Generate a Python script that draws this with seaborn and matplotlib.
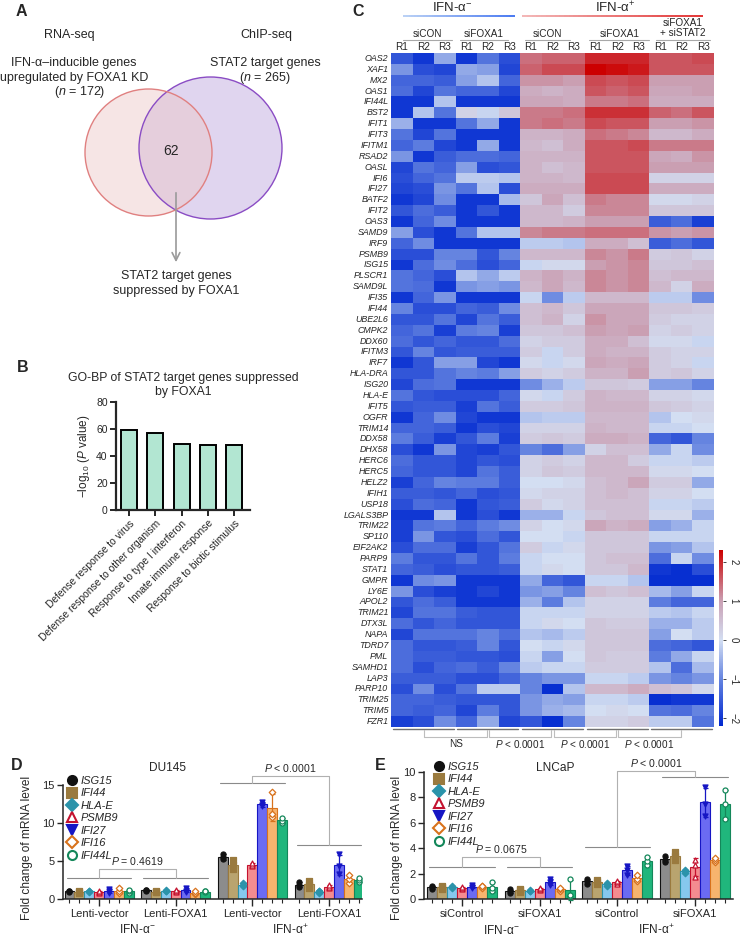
import numpy as np
import pandas as pd
import matplotlib
matplotlib.use("Agg")
import matplotlib.pyplot as plt
import seaborn as sns
from matplotlib.patches import Ellipse
from matplotlib.colors import LinearSegmentedColormap
from matplotlib.collections import LineCollection
from matplotlib.lines import Line2D

# ---------------- data ----------------
# A: venn counts
rna_n, chip_n, overlap_n = 172, 265, 62

# B: GO-BP enrichment
go_terms = ["Defense response to virus", "Defense response to other organism",
            "Response to type I interferon", "Innate immune response",
            "Response to biotic stimulus"]
go_logp = [59.6, 56.9, 49.0, 48.5, 47.8]

# C: heatmap (z-scores, 62 genes x 3 replicates per group)
genes = ["OAS2", "XAF1", "MX2", "OAS1", "IFI44L", "BST2", "IFIT1", "IFIT3", "IFITM1", "RSAD2",
         "OASL", "IFI6", "IFI27", "BATF2", "IFIT2", "OAS3", "SAMD9", "IRF9", "PSMB9", "ISG15",
         "PLSCR1", "SAMD9L", "IFI35", "IFI44", "UBE2L6", "CMPK2", "DDX60", "IFITM3", "IRF7", "HLA-DRA",
         "ISG20", "HLA-E", "IFIT5", "OGFR", "TRIM14", "DDX58", "DHX58", "HERC6", "HERC5", "HELZ2",
         "IFIH1", "USP18", "LGALS3BP", "TRIM22", "SP110", "EIF2AK2", "PARP9", "STAT1", "GMPR", "LY6E",
         "APOL2", "TRIM21", "DTX3L", "NAPA", "TDRD7", "PML", "SAMHD1", "LAP3", "PARP10", "TRIM25",
         "TRIM5", "FZR1"]
heat_groups = ["siCON", "siFOXA1", "siCON", "siFOXA1", "siFOXA1\n+ siSTAT2"]
reps = ["R1", "R2", "R3"]
heat_tests = ["NS", "$\\it{P}$ < 0.0001", "$\\it{P}$ < 0.0001", "$\\it{P}$ < 0.0001"]

sicon_neg = [
    (-1.6, -2.0, -0.6), (-0.8, -1.7, -1.8), (-1.4, -1.4, -1.5), (-1.3, -1.8, -1.2), (-2.0, -2.0, -0.3),
    (-2.0, -0.3, -1.2), (-0.5, -2.0, -2.0), (-1.2, -1.8, -1.2), (-1.4, -1.1, -1.8), (-0.8, -2.0, -1.5),
    (-1.8, -1.2, -1.4), (-1.7, -1.4, -1.2), (-1.8, -1.7, -0.8), (-2.0, -1.8, -0.9), (-1.6, -1.3, -1.5),
    (-2.0, -1.4, -0.9), (-0.7, -1.7, -2.0), (-1.4, -0.9, -2.0), (-1.7, -1.7, -1.0), (-2.0, -1.3, -0.9),
    (-1.2, -1.4, -1.7), (-1.2, -1.3, -2.0), (-2.0, -1.4, -0.8), (-1.0, -1.7, -1.7), (-1.6, -1.6, -1.2),
    (-1.4, -1.2, -1.9), (-1.3, -1.6, -1.4), (-1.6, -1.0, -1.6), (-2.0, -1.6, -0.7), (-1.6, -1.6, -1.2),
    (-1.8, -1.3, -1.2), (-1.2, -1.6, -1.7), (-1.6, -1.5, -1.5), (-2.0, -1.4, -0.9), (-1.4, -1.4, -1.5),
    (-1.1, -1.5, -1.9), (-1.7, -2.0, -0.8), (-1.3, -1.6, -1.6), (-1.4, -1.6, -1.6), (-1.9, -1.4, -1.0),
    (-1.5, -1.5, -1.6), (-1.7, -1.3, -1.4), (-2.0, -2.0, -0.3), (-1.9, -1.2, -1.1), (-1.9, -0.8, -1.6),
    (-1.7, -1.3, -1.3), (-1.1, -1.6, -1.6), (-1.4, -1.5, -1.7), (-2.0, -0.9, -0.8), (-0.8, -1.7, -1.9),
    (-1.6, -1.3, -1.5), (-1.8, -1.2, -1.2), (-1.3, -1.6, -1.4), (-1.8, -1.2, -1.2), (-1.3, -1.6, -1.6),
    (-1.3, -1.5, -1.5), (-1.3, -1.7, -1.4), (-1.5, -1.5, -1.5), (-1.7, -0.9, -1.7), (-1.4, -1.4, -1.5),
    (-1.4, -1.5, -1.4), (-1.9, -1.7, -0.9)]
sifoxa1_neg = [
    (-2.0, -1.2, -1.7), (-0.6, -0.7, -1.8), (-0.7, -0.3, -1.4), (-1.4, -1.4, -1.8), (-2.0, -2.0, -2.0),
    (0.2, -0.1, 0.4), (-1.2, -0.6, -2.0), (-2.0, -2.0, -2.0), (-2.0, -0.6, -2.0), (-1.3, -1.3, -1.4),
    (-0.7, -1.7, -1.6), (-0.2, -0.2, -0.3), (-1.2, -0.3, -1.7), (-2.0, -2.0, -0.4), (-2.0, -1.6, -2.0),
    (-2.0, -2.0, -2.0), (-1.2, -0.3, -0.3), (-2.0, -2.0, -2.0), (-1.0, -1.6, -1.0), (-1.3, -1.7, -1.4),
    (-0.3, -0.6, -0.2), (-0.8, -0.7, -0.8), (-2.0, -2.0, -2.0), (-1.4, -1.5, -0.9), (-1.8, -1.2, -1.5),
    (-1.1, -1.0, -1.9), (-1.6, -1.6, -1.3), (-1.5, -1.5, -1.5), (-0.7, -1.8, -2.0), (-1.0, -1.1, -0.7),
    (-2.0, -2.0, -2.0), (-1.7, -1.7, -1.4), (-1.9, -1.2, -1.5), (-1.8, -2.0, -2.0), (-2.0, -1.7, -1.8),
    (-1.6, -1.1, -1.9), (-1.8, -1.9, -1.6), (-1.8, -1.6, -1.7), (-1.8, -1.2, -1.5), (-1.1, -1.1, -1.5),
    (-1.4, -1.7, -1.6), (-2.0, -1.6, -1.5), (-2.0, -1.7, -2.0), (-1.4, -1.1, -0.9), (-1.7, -1.3, -1.6),
    (-1.9, -1.6, -1.2), (-1.2, -1.6, -1.1), (-1.6, -1.6, -1.5), (-2.0, -2.0, -2.0), (-2.0, -1.8, -2.0),
    (-2.0, -2.0, -2.0), (-1.5, -1.6, -1.6), (-1.6, -1.6, -1.6), (-1.2, -1.0, -1.3), (-1.5, -1.0, -1.6),
    (-1.6, -1.6, -1.7), (-1.3, -1.5, -1.0), (-1.7, -1.7, -1.4), (-1.2, -0.2, -0.2), (-1.6, -1.6, -1.6),
    (-1.8, -1.1, -1.6), (-1.4, -0.6, -1.8)]
sicon_pos = [
    (1.4, 1.5, 1.5), (1.5, 1.7, 1.7), (1.1, 1.1, 1.0), (0.8, 0.7, 0.8), (0.9, 0.9, 0.8),
    (1.3, 1.3, 1.4), (1.3, 1.4, 1.3), (0.7, 0.7, 0.8), (0.6, 0.5, 0.8), (0.7, 0.7, 0.7),
    (0.7, 0.5, 0.6), (0.7, 0.7, 0.6), (0.8, 0.8, 0.8), (0.4, 0.9, 0.5), (0.6, 0.6, 0.3),
    (0.6, 0.6, 0.7), (1.2, 1.3, 1.3), (-0.2, -0.2, -0.3), (0.6, 0.6, 0.6), (-0.1, 0.1, 0.1),
    (0.7, 0.9, 0.7), (0.6, 0.9, 0.6), (-0.1, -0.9, -0.2), (0.5, 0.6, 0.4), (0.5, 0.7, 0.2),
    (0.4, 0.4, 0.5), (0.2, 0.3, 0.3), (0.3, -0.1, 0.3), (0.1, -0.1, 0.1), (0.3, 0.2, 0.3),
    (-0.9, -0.5, -0.2), (0.1, -0.1, 0.3), (0.3, 0.3, 0.4), (-0.3, -0.2, -0.2), (0.2, 0.2, 0.2),
    (0.3, 0.4, 0.3), (-1.0, -1.3, -0.7), (0.2, 0.3, 0.2), (0.2, 0.4, 0.3), (0.0, 0.0, 0.1),
    (0.1, 0.2, 0.2), (0.3, 0.1, 0.2), (-0.5, -0.5, -0.1), (0.2, 0.0, 0.1), (0.0, 0.0, -0.1),
    (0.3, -0.1, 0.1), (-0.1, 0.0, 0.0), (-0.1, 0.1, 0.0), (-0.6, -1.4, -1.6), (-0.8, -0.7, -1.0),
    (-0.5, -1.1, -0.3), (-0.1, -0.1, -0.1), (-0.1, 0.1, 0.0), (-0.3, -0.4, -0.2), (0.0, -0.1, 0.1),
    (-0.1, -0.7, 0.0), (-0.2, -0.1, -0.1), (-1.0, -0.8, -0.8), (-1.0, -2.1, -0.3), (-0.8, -0.6, -0.7),
    (-0.8, -0.5, -0.4), (-1.6, -2.1, -1.0)]
sifoxa1_pos = [
    (2.0, 2.0, 2.0), (2.3, 2.2, 2.1), (1.7, 1.6, 1.7), (1.6, 1.5, 1.6), (1.3, 1.3, 1.4),
    (1.9, 1.9, 1.9), (1.7, 1.6, 1.6), (1.4, 1.3, 1.2), (1.6, 1.6, 1.7), (1.6, 1.6, 1.6),
    (1.6, 1.6, 1.6), (1.7, 1.7, 1.7), (1.7, 1.7, 1.7), (1.3, 1.2, 1.2), (1.2, 1.2, 1.2),
    (1.0, 1.0, 1.0), (1.4, 1.4, 1.4), (0.8, 0.8, 0.5), (1.2, 1.1, 1.3), (1.0, 1.1, 1.2),
    (1.2, 1.1, 1.2), (1.2, 1.1, 1.2), (0.6, 0.6, 0.6), (0.9, 0.9, 0.9), (1.1, 0.9, 0.9),
    (1.0, 0.9, 1.0), (0.8, 0.8, 0.5), (0.8, 0.7, 0.7), (0.9, 0.8, 0.9), (0.7, 0.7, 1.0),
    (0.4, 0.4, 0.3), (0.7, 0.6, 0.6), (0.7, 0.7, 0.7), (0.6, 0.6, 0.6), (0.7, 0.6, 0.6),
    (0.8, 0.8, 0.7), (0.2, 0.5, 0.5), (0.6, 0.6, 0.3), (0.6, 0.6, 0.6), (0.5, 0.6, 0.9),
    (0.5, 0.6, 0.5), (0.5, 0.5, 0.5), (0.4, 0.5, 0.5), (0.9, 0.7, 0.8), (0.4, 0.4, 0.4),
    (0.4, 0.4, 0.4), (0.4, 0.5, 0.5), (0.4, 0.4, 0.6), (-0.1, -0.1, -0.3), (0.5, 0.4, 0.5),
    (0.2, 0.2, 0.2), (0.2, 0.2, 0.2), (0.4, 0.3, 0.3), (0.4, 0.4, 0.4), (0.4, 0.4, 0.4),
    (0.4, 0.3, 0.3), (0.3, 0.3, 0.3), (-0.1, -0.1, -0.2), (0.6, 0.6, 0.8), (-0.1, -0.1, -0.2),
    (0.0, 0.1, 0.0), (0.2, 0.2, 0.3)]
sistat2_pos = [
    (1.6, 1.6, 1.7), (1.6, 1.6, 1.6), (1.0, 1.0, 1.0), (0.9, 0.9, 1.0), (0.8, 0.8, 0.8),
    (1.5, 1.4, 1.6), (1.0, 1.0, 1.1), (0.6, 0.6, 0.8), (1.3, 1.3, 1.3), (0.9, 0.8, 1.1),
    (1.0, 1.0, 1.0), (0.2, 0.2, 0.2), (0.8, 0.8, 0.8), (0.1, 0.1, 0.2), (0.4, 0.4, 0.4),
    (-1.5, -1.3, -1.9), (1.1, 1.0, 1.1), (-1.5, -1.3, -1.6), (0.3, 0.4, 0.2), (0.4, 0.4, 0.5),
    (0.5, 0.6, 0.6), (0.6, 0.2, 0.8), (-0.2, -0.2, -0.9), (0.4, 0.4, 0.3), (0.3, 0.2, 0.2),
    (0.2, 0.3, 0.2), (0.1, 0.1, -0.1), (0.3, 0.2, 0.2), (0.3, 0.2, -0.1), (0.3, 0.4, 0.2),
    (-0.7, -0.7, -1.0), (0.2, 0.2, 0.1), (0.4, 0.3, 0.2), (-0.3, 0.0, 0.1), (-0.1, -0.1, 0.0),
    (-1.4, -1.6, -1.0), (-0.6, -0.1, -0.9), (-0.1, -0.1, -0.2), (0.1, 0.1, 0.0), (0.3, 0.3, -0.6),
    (0.2, 0.2, 0.0), (-0.1, -0.1, -0.2), (0.1, 0.1, -0.5), (-0.7, -0.5, -0.1), (-0.1, -0.1, -0.1),
    (-0.8, -0.7, -0.3), (-1.3, -0.1, -0.9), (-2.0, -2.1, -1.7), (-2.1, -2.1, -2.1), (-0.4, -0.7, -0.1),
    (-1.1, -1.4, -1.4), (-0.2, -0.3, -0.1), (-0.5, -0.5, -0.2), (-0.7, 0.0, -0.2), (-1.3, -1.4, -1.6),
    (-1.1, -0.6, -0.1), (-0.3, -1.3, -0.4), (-0.8, -1.0, -0.8), (0.5, 0.4, 0.1), (-2.1, -2.0, -2.0),
    (-1.2, -1.3, -1.0), (-0.2, -0.2, -1.2)]

# D/E: qPCR fold change, 3 replicates per group (group order as in the x labels)
qpcr_genes = ["ISG15", "IFI44", "HLA-E", "PSMB9", "IFI27", "IFI16", "IFI44L"]
du145_groups = ["Lenti-vector", "Lenti-FOXA1", "Lenti-vector", "Lenti-FOXA1"]
du145 = {
    "ISG15":  [0.9, 1.0, 1.1,   1.1, 1.2, 1.15,  5.2, 5.5, 5.9,     1.6, 1.9, 2.2],
    "IFI44":  [0.85, 0.95, 1.0, 0.9, 0.95, 1.0,  4.0, 4.5, 5.1,     1.5, 1.9, 2.4],
    "HLA-E":  [0.9, 1.0, 1.1,   1.0, 1.1, 1.2,   1.7, 1.9, 2.1,     0.8, 1.0, 1.1],
    "PSMB9":  [0.85, 0.95, 1.05, 0.95, 1.05, 1.15, 4.3, 4.5, 4.7,   1.4, 1.6, 1.8],
    "IFI27":  [0.8, 1.05, 1.3,  0.9, 1.1, 1.4,   12.2, 12.4, 12.8,  3.3, 4.3, 5.9],
    "IFI16":  [0.8, 1.0, 1.5,   0.6, 0.8, 1.0,   10.8, 11.2, 14.1,  2.1, 2.6, 3.1],
    "IFI44L": [0.8, 1.0, 1.2,   0.9, 1.0, 1.05,  10.0, 10.3, 10.7,  2.2, 2.5, 2.8],
}
lncap_groups = ["siControl", "siFOXA1", "siControl", "siFOXA1"]
lncap = {
    "ISG15":  [0.8, 0.95, 1.05, 0.5, 0.6, 0.75,  1.2, 1.4, 1.6,    2.9, 3.1, 3.35],
    "IFI44":  [0.8, 0.95, 1.05, 0.55, 0.7, 0.8,  1.2, 1.35, 1.5,   3.1, 3.4, 3.7],
    "HLA-E":  [0.85, 0.95, 1.05, 0.6, 0.65, 0.7, 1.05, 1.15, 1.25, 2.05, 2.2, 2.3],
    "PSMB9":  [0.8, 0.9, 0.95,  0.7, 0.8, 0.9,   1.2, 1.3, 1.4,    1.7, 2.7, 3.1],
    "IFI27":  [0.85, 0.95, 1.1, 1.1, 1.35, 1.6,  1.9, 2.3, 2.6,    6.5, 7.5, 8.8],
    "IFI16":  [0.9, 1.0, 1.05,  0.65, 0.75, 0.85, 1.4, 1.6, 1.9,   2.9, 3.1, 3.25],
    "IFI44L": [0.6, 0.9, 1.35,  0.2, 0.3, 1.6,   2.7, 3.0, 3.3,    6.3, 7.5, 8.6],
}

# ---------------- style ----------------
sns.set_style("ticks")
plt.rcParams['font.family'] = ['Liberation Sans', 'DejaVu Sans']
plt.rcParams['mathtext.fontset'] = 'custom'
plt.rcParams['mathtext.rm'] = 'Liberation Sans'
plt.rcParams['mathtext.it'] = 'Liberation Sans:italic'
plt.rcParams['mathtext.bf'] = 'Liberation Sans:bold'

bar_cols = ["#8c8c8c", "#b9a46f", "#86c8ee", "#f48c90", "#6b6bf2", "#f7b46e", "#20b67c"]
marker_style = {
    "ISG15": ("o", "#111111", "#111111"),
    "IFI44": ("s", "#9a7a3e", "#9a7a3e"),
    "HLA-E": ("D", "#2b93aa", "#2b93aa"),
    "PSMB9": ("^", "white", "#c4122f"),
    "IFI27": ("v", "#1616c4", "#1616c4"),
    "IFI16": ("D", "white", "#d8721c"),
    "IFI44L": ("o", "white", "#14875a"),
}

W, H = 742, 942
fig = plt.figure(figsize=(W / 100, H / 100), dpi=100)


def px_axes(l, t, r, b):
    return fig.add_axes([l / W, 1 - b / H, (r - l) / W, (b - t) / H])


ov = px_axes(0, 0, W, H)
ov.set_xlim(0, W)
ov.set_ylim(H, 0)
ov.axis("off")

for letter, x, y in [("A", 21, 12), ("B", 23, 367), ("C", 358, 12), ("D", 17, 765), ("E", 380, 765)]:
    ov.text(x, y, letter, fontsize=11.5, fontweight="bold", ha="center", va="center")

# ---------------- A: venn ----------------
ov.add_patch(Ellipse((210.5, 148), 143, 142, facecolor="#e0d5ef", edgecolor="none"))
ov.add_patch(Ellipse((148.5, 152.5), 127, 127, facecolor="#ecc7c7", alpha=0.45, edgecolor="none"))
ov.add_patch(Ellipse((210.5, 148), 143, 142, facecolor="none", edgecolor="#8a4cc4", lw=1.0))
ov.add_patch(Ellipse((148.5, 152.5), 127, 127, facecolor="none", edgecolor="#e08080", lw=1.0))
ov.text(171, 151, str(overlap_n), fontsize=10, ha="center", va="center")
ov.text(69, 35, "RNA-seq", fontsize=9, ha="center", va="center")
ov.text(266, 35, "ChIP-seq", fontsize=9, ha="center", va="center")
ov.text(74, 63, "IFN-α–inducible genes", fontsize=9, ha="center", va="center")
ov.text(74, 78, "upregulated by FOXA1 KD", fontsize=9, ha="center", va="center")
ov.text(80, 92, "($\\it{n}$ = %d)" % rna_n, fontsize=9, ha="center", va="center")
ov.text(265, 63, "STAT2 target genes", fontsize=9, ha="center", va="center")
ov.text(265, 78, "($\\it{n}$ = %d)" % chip_n, fontsize=9, ha="center", va="center")
ov.annotate("", xy=(176, 265), xytext=(176, 190),
            arrowprops=dict(arrowstyle="->", color="#9a9a9a", lw=1.2, mutation_scale=14))
ov.text(176, 276, "STAT2 target genes", fontsize=9, ha="center", va="center")
ov.text(176, 291, "suppressed by FOXA1", fontsize=9, ha="center", va="center")

# ---------------- B: GO bar ----------------
axB = px_axes(116, 402, 250, 510)
sns.barplot(x=go_terms, y=go_logp, color="#b2e6d2", saturation=1, edgecolor="black",
            linewidth=1.4, width=0.61, ax=axB)
axB.set_xlim(-0.5, 4.6)
axB.set_ylim(0, 80)
axB.set_yticks([0, 20, 40, 60, 80])
sns.despine(ax=axB)
for s in ["left", "bottom"]:
    axB.spines[s].set_linewidth(1.6)
axB.tick_params(axis="both", width=1.4, length=4, labelsize=7.5, pad=2)
axB.set_xticks(range(len(go_terms)))
axB.set_xticklabels(go_terms, rotation=45, ha="right", rotation_mode="anchor", fontsize=7.4)
axB.set_ylabel("$-$log$_{10}$ ($\\it{P}$ value)", fontsize=8.5, labelpad=3)
axB.set_title("GO-BP of STAT2 target genes suppressed\nby FOXA1", fontsize=8.8, pad=5,
              x=(183 - 116) / 134)

# ---------------- C: heatmap ----------------
heat = np.hstack([np.array(a) for a in [sicon_neg, sifoxa1_neg, sicon_pos, sifoxa1_pos, sistat2_pos]])
heat_df = pd.DataFrame(heat, index=genes, columns=[f"{g}_{r}" for g in range(5) for r in reps])
vmin, vmax = -2.2, 2.3
nodes = [(0, "#0028d0"), ((-1 - vmin) / (vmax - vmin), "#6584e0"), ((0 - vmin) / (vmax - vmin), "#d3def2"),
         ((1 - vmin) / (vmax - vmin), "#caa0b4"), (1, "#cc0000")]
cmap = LinearSegmentedColormap.from_list("hm", nodes)

axC = px_axes(391, 53, 714, 727)
cax = px_axes(719, 550, 723, 726)
sns.heatmap(heat_df, cmap=cmap, vmin=vmin, vmax=vmax, ax=axC, cbar_ax=cax,
            xticklabels=reps * 5, yticklabels=genes, cbar_kws={"ticks": [-2, -1, 0, 1, 2]})
axC.xaxis.tick_top()
axC.tick_params(axis="x", length=0, pad=1, labelsize=7.2, labelrotation=0)
axC.tick_params(axis="y", length=0, pad=2, labelsize=6.4, labelrotation=0)
for t in axC.get_yticklabels():
    t.set_fontstyle("italic")
cax.tick_params(length=2, width=0.6, labelsize=7, pad=2)
for t in cax.get_yticklabels():
    t.set_rotation(270)
    t.set_va("center")
axC.collections[0].colorbar.outline.set_visible(False)


def grad_line(ax, x0, x1, y, c0, c1, lw=1.3):
    xs = np.linspace(x0, x1, 40)
    segs = [[(xs[i], y), (xs[i + 1], y)] for i in range(len(xs) - 1)]
    gcm = LinearSegmentedColormap.from_list("g", [c0, c1])
    ax.add_collection(LineCollection(segs, colors=gcm(np.linspace(0, 1, len(segs))), lw=lw,
                                     clip_on=False), autolim=False)


rh = 10.87  # px per row
def row_y(px):
    return (px - 53) / rh

axC.text(2.85, row_y(8), "IFN-α$^{-}$", fontsize=9.5, ha="center", va="center")
axC.text(10.4, row_y(8), "IFN-α$^{+}$", fontsize=9.5, ha="center", va="center")
grad_line(axC, 0.55, 5.75, row_y(16), "#b4cdf4", "#3a6ef0")
grad_line(axC, 6.1, 14.5, row_y(16), "#f2b0b0", "#e02424")
sub_spans = [(0.55, 2.85), (3.2, 5.45), (6.2, 8.3), (9.2, 12.0), (12.3, 14.8)]
for g, (name, (a, b)) in enumerate(zip(heat_groups, sub_spans)):
    cy = row_y(28) if "\n" in name else row_y(34)
    axC.text((a + b) / 2, cy, name, fontsize=7.2, ha="center", va="center", linespacing=1.1)
    axC.plot([a, b], [row_y(40), row_y(40)], color="#a8a8a8", lw=0.8, clip_on=False)

n = len(genes)
for g in range(5):
    axC.plot([g * 3 + 0.08, g * 3 + 2.92], [n + 0.22, n + 0.22], color="#707070", lw=1.0, clip_on=False)
for g, lab in enumerate(heat_tests):
    x0, x1 = g * 3 + 1.5, g * 3 + 4.5
    axC.plot([x0 + 0.05, x0 + 0.05, x1 - 0.05, x1 - 0.05], [n + 0.3, n + 0.88, n + 0.88, n + 0.3],
             color="#bdbdbd", lw=0.8, clip_on=False)
    axC.text((x0 + x1) / 2, n + 1.55, lab, fontsize=7.2, ha="center", va="center")


# ---------------- D/E: qPCR ----------------
def qpcr_panel(ax, values, groups):
    rows = [(g, gene, v) for gene in qpcr_genes for g in range(4) for v in values[gene][g * 3:g * 3 + 3]]
    d = pd.DataFrame(rows, columns=["grp", "gene", "val"])
    sns.barplot(data=d, x="grp", y="val", hue="gene", hue_order=qpcr_genes, palette=bar_cols,
                errorbar=None, width=0.9, saturation=1, linewidth=0.8, legend=False, ax=ax)
    centers = []
    for cont, gene in zip(ax.containers, qpcr_genes):
        m, fc, ec = marker_style[gene]
        for j, patch in enumerate(cont):
            patch.set_edgecolor(ec)
            cx = patch.get_x() + patch.get_width() / 2
            centers.append(cx)
            r = np.array(values[gene][j * 3:j * 3 + 3])
            ax.errorbar(cx, r.mean(), yerr=r.std(ddof=1), color=ec, lw=0.9, capsize=1.8,
                        capthick=0.9, zorder=3, clip_on=False)
            ax.scatter([cx] * 3, r, marker=m, s=13 if m != "D" else 11, facecolor=fc, edgecolor=ec,
                       linewidth=0.9, zorder=4, clip_on=False)
    sns.despine(ax=ax)
    for s in ["left", "bottom"]:
        ax.spines[s].set_linewidth(1.1)
    ax.set_xticks(range(4))
    ax.set_xticklabels(groups, fontsize=8)
    ax.set_xticks(centers, minor=True)
    ax.tick_params(axis="x", which="major", length=5, width=1.0, pad=2)
    ax.tick_params(axis="x", which="minor", length=3, width=0.8)
    ax.tick_params(axis="y", length=4, width=1.0, labelsize=8, pad=2)
    ax.set_xlabel("")
    ax.set_ylabel("Fold change of mRNA level", fontsize=8.6)
    handles = [Line2D([], [], ls="", marker=marker_style[g][0], markersize=6.5 if marker_style[g][0] != "D" else 6,
                      markerfacecolor=marker_style[g][1], markeredgecolor=marker_style[g][2],
                      markeredgewidth=1.5) for g in qpcr_genes]
    return handles


def group_line(ax, x, y):
    ax.plot([x - 0.42, x + 0.42], [y, y], color="#8a8a8a", lw=0.8, clip_on=False)


def bracket(ax, x0, x1, y, yl, yr, text):
    ax.plot([x0, x0, x1, x1], [yl, y, y, yr], color="#b0b0b0", lw=0.8, clip_on=False)
    ax.annotate(text, ((x0 + x1) / 2, y), xytext=(0, 1.5), textcoords="offset points",
                ha="center", va="bottom", fontsize=7.6, annotation_clip=False)


axD = px_axes(63, 785, 362, 899)
hD = qpcr_panel(axD, du145, du145_groups)
axD.set_xlim(-0.47, 3.43)
axD.set_ylim(0, 15)
axD.set_yticks([0, 5, 10, 15])
axD.yaxis.set_label_coords(-0.1, 0.45)
axD.text((168 - 63) / 299, (899 - 768) / 114, "DU145", transform=axD.transAxes, fontsize=8.6,
         ha="center", va="center")
axD.text(0.5, -0.27, "IFN-α$^{-}$", transform=axD.get_xaxis_transform(), fontsize=8.6, ha="center", va="center")
axD.text(2.5, -0.27, "IFN-α$^{+}$", transform=axD.get_xaxis_transform(), fontsize=8.6, ha="center", va="center")
group_line(axD, 0, 2.8)
group_line(axD, 1, 2.8)
bracket(axD, 0, 1, 3.95, 2.8, 2.8, "$\\it{P}$ = 0.4619")
group_line(axD, 2, 15.3)
group_line(axD, 3, 7.1)
bracket(axD, 2, 3, 16.2, 15.3, 7.1, "$\\it{P}$ < 0.0001")
fig.legend(hD, qpcr_genes, loc="upper left", bbox_to_anchor=(67 / W, 1 - 776 / H), frameon=False,
           prop={"style": "italic", "size": 8}, handlelength=0.9, handletextpad=0.35,
           labelspacing=0.22, borderpad=0, borderaxespad=0)

axE = px_axes(424, 772, 733, 899)
hE = qpcr_panel(axE, lncap, lncap_groups)
axE.set_xlim(-0.49, 3.49)
axE.set_ylim(0, 10)
axE.set_yticks([0, 2, 4, 6, 8, 10])
axE.yaxis.set_label_coords(-0.068, 0.4)
axE.text((555 - 424) / 309, (899 - 768) / 127, "LNCaP", transform=axE.transAxes, fontsize=8.6,
         ha="center", va="center")
axE.text(0.5, -0.245, "IFN-α$^{-}$", transform=axE.get_xaxis_transform(), fontsize=8.6, ha="center", va="center")
axE.text(2.5, -0.245, "IFN-α$^{+}$", transform=axE.get_xaxis_transform(), fontsize=8.6, ha="center", va="center")
group_line(axE, 0, 2.5)
group_line(axE, 1, 2.5)
bracket(axE, 0, 1, 3.3, 2.5, 2.5, "$\\it{P}$ = 0.0675")
group_line(axE, 2, 4.1)
group_line(axE, 3, 9.6)
bracket(axE, 2, 3, 10.1, 4.1, 9.6, "$\\it{P}$ < 0.0001")
fig.legend(hE, qpcr_genes, loc="upper left", bbox_to_anchor=(434 / W, 1 - 762 / H), frameon=False,
           prop={"style": "italic", "size": 8}, handlelength=0.9, handletextpad=0.35,
           labelspacing=0.22, borderpad=0, borderaxespad=0)

fig.savefig("out.png", dpi=100)
